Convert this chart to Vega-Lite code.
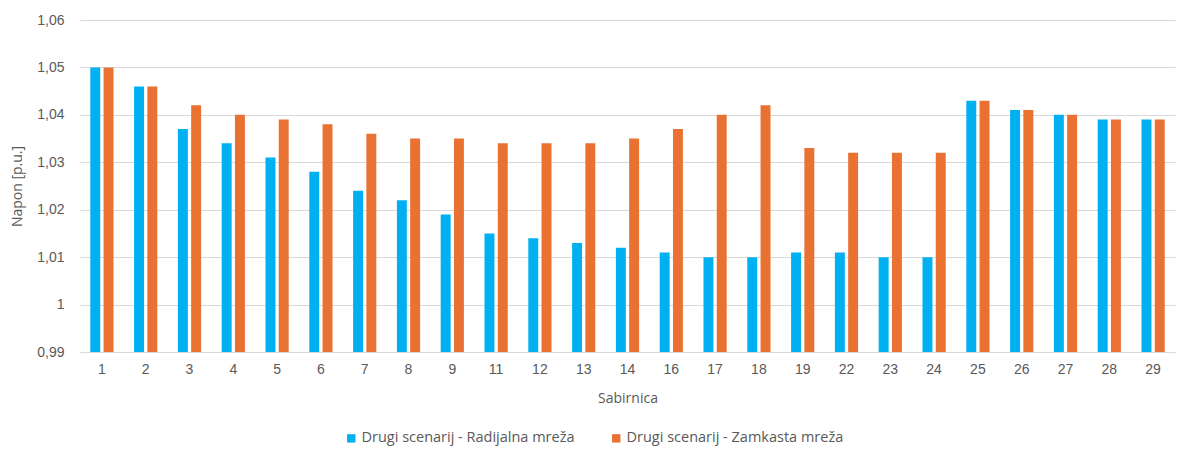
{
  "$schema": "https://vega.github.io/schema/vega-lite/v6.json",
  "width": 1095,
  "height": 332,
  "autosize": {"type": "none"},
  "padding": {"left": 80, "top": 20, "right": 2, "bottom": 98},
  "background": "white",
  "config": {
    "view": {"stroke": null},
    "font": "Liberation Sans",
    "axis": {"labelColor": "#595959", "titleColor": "#595959", "labelFontSize": 14, "titleFontSize": 14, "titleFont": "Open Sans", "titleFontWeight": "normal"},
    "legend": {"labelColor": "#595959", "labelFontSize": 14.5, "labelFont": "Open Sans"}
  },
  "data": {
    "values": [
      {"bus": "1", "series": "Drugi scenarij - Radijalna mreža", "v": 1.050},
      {"bus": "1", "series": "Drugi scenarij - Zamkasta mreža", "v": 1.050},
      {"bus": "2", "series": "Drugi scenarij - Radijalna mreža", "v": 1.046},
      {"bus": "2", "series": "Drugi scenarij - Zamkasta mreža", "v": 1.046},
      {"bus": "3", "series": "Drugi scenarij - Radijalna mreža", "v": 1.037},
      {"bus": "3", "series": "Drugi scenarij - Zamkasta mreža", "v": 1.042},
      {"bus": "4", "series": "Drugi scenarij - Radijalna mreža", "v": 1.034},
      {"bus": "4", "series": "Drugi scenarij - Zamkasta mreža", "v": 1.040},
      {"bus": "5", "series": "Drugi scenarij - Radijalna mreža", "v": 1.031},
      {"bus": "5", "series": "Drugi scenarij - Zamkasta mreža", "v": 1.039},
      {"bus": "6", "series": "Drugi scenarij - Radijalna mreža", "v": 1.028},
      {"bus": "6", "series": "Drugi scenarij - Zamkasta mreža", "v": 1.038},
      {"bus": "7", "series": "Drugi scenarij - Radijalna mreža", "v": 1.024},
      {"bus": "7", "series": "Drugi scenarij - Zamkasta mreža", "v": 1.036},
      {"bus": "8", "series": "Drugi scenarij - Radijalna mreža", "v": 1.022},
      {"bus": "8", "series": "Drugi scenarij - Zamkasta mreža", "v": 1.035},
      {"bus": "9", "series": "Drugi scenarij - Radijalna mreža", "v": 1.019},
      {"bus": "9", "series": "Drugi scenarij - Zamkasta mreža", "v": 1.035},
      {"bus": "11", "series": "Drugi scenarij - Radijalna mreža", "v": 1.015},
      {"bus": "11", "series": "Drugi scenarij - Zamkasta mreža", "v": 1.034},
      {"bus": "12", "series": "Drugi scenarij - Radijalna mreža", "v": 1.014},
      {"bus": "12", "series": "Drugi scenarij - Zamkasta mreža", "v": 1.034},
      {"bus": "13", "series": "Drugi scenarij - Radijalna mreža", "v": 1.013},
      {"bus": "13", "series": "Drugi scenarij - Zamkasta mreža", "v": 1.034},
      {"bus": "14", "series": "Drugi scenarij - Radijalna mreža", "v": 1.012},
      {"bus": "14", "series": "Drugi scenarij - Zamkasta mreža", "v": 1.035},
      {"bus": "16", "series": "Drugi scenarij - Radijalna mreža", "v": 1.011},
      {"bus": "16", "series": "Drugi scenarij - Zamkasta mreža", "v": 1.037},
      {"bus": "17", "series": "Drugi scenarij - Radijalna mreža", "v": 1.010},
      {"bus": "17", "series": "Drugi scenarij - Zamkasta mreža", "v": 1.040},
      {"bus": "18", "series": "Drugi scenarij - Radijalna mreža", "v": 1.010},
      {"bus": "18", "series": "Drugi scenarij - Zamkasta mreža", "v": 1.042},
      {"bus": "19", "series": "Drugi scenarij - Radijalna mreža", "v": 1.011},
      {"bus": "19", "series": "Drugi scenarij - Zamkasta mreža", "v": 1.033},
      {"bus": "22", "series": "Drugi scenarij - Radijalna mreža", "v": 1.011},
      {"bus": "22", "series": "Drugi scenarij - Zamkasta mreža", "v": 1.032},
      {"bus": "23", "series": "Drugi scenarij - Radijalna mreža", "v": 1.010},
      {"bus": "23", "series": "Drugi scenarij - Zamkasta mreža", "v": 1.032},
      {"bus": "24", "series": "Drugi scenarij - Radijalna mreža", "v": 1.010},
      {"bus": "24", "series": "Drugi scenarij - Zamkasta mreža", "v": 1.032},
      {"bus": "25", "series": "Drugi scenarij - Radijalna mreža", "v": 1.043},
      {"bus": "25", "series": "Drugi scenarij - Zamkasta mreža", "v": 1.043},
      {"bus": "26", "series": "Drugi scenarij - Radijalna mreža", "v": 1.041},
      {"bus": "26", "series": "Drugi scenarij - Zamkasta mreža", "v": 1.041},
      {"bus": "27", "series": "Drugi scenarij - Radijalna mreža", "v": 1.040},
      {"bus": "27", "series": "Drugi scenarij - Zamkasta mreža", "v": 1.040},
      {"bus": "28", "series": "Drugi scenarij - Radijalna mreža", "v": 1.039},
      {"bus": "28", "series": "Drugi scenarij - Zamkasta mreža", "v": 1.039},
      {"bus": "29", "series": "Drugi scenarij - Radijalna mreža", "v": 1.039},
      {"bus": "29", "series": "Drugi scenarij - Zamkasta mreža", "v": 1.039}
    ]
  },
  "mark": {"type": "bar", "clip": true},
  "encoding": {
    "x": {
      "field": "bus", "type": "nominal", "sort": null,
      "scale": {"paddingInner": 0.47, "paddingOuter": 0.235},
      "axis": {"title": "Sabirnica", "labelAngle": 0, "ticks": false, "domainColor": "#d9d9d9", "labelPadding": 10, "titlePadding": 15}
    },
    "xOffset": {"field": "series", "type": "nominal", "scale": {"paddingInner": 0.25}},
    "y": {
      "field": "v", "type": "quantitative",
      "scale": {"domain": [0.99, 1.06], "zero": false, "nice": false},
      "axis": {"title": "Napon [p.u.]", "values": [0.99, 1.0, 1.01, 1.02, 1.03, 1.04, 1.05, 1.06], "labelExpr": "replace(format(datum.value, '.2~f'), '.', ',')", "domain": false, "ticks": false, "gridColor": "#d9d9d9", "labelPadding": 16, "titlePadding": 12}
    },
    "color": {
      "field": "series", "type": "nominal",
      "scale": {"range": ["#00B0F0", "#E97132"]},
      "legend": {"title": null, "orient": "none", "legendX": 264, "legendY": 411, "direction": "horizontal", "symbolType": "square", "symbolSize": 70, "columnPadding": 34, "labelLimit": 0, "labelOffset": 3}
    }
  }
}
